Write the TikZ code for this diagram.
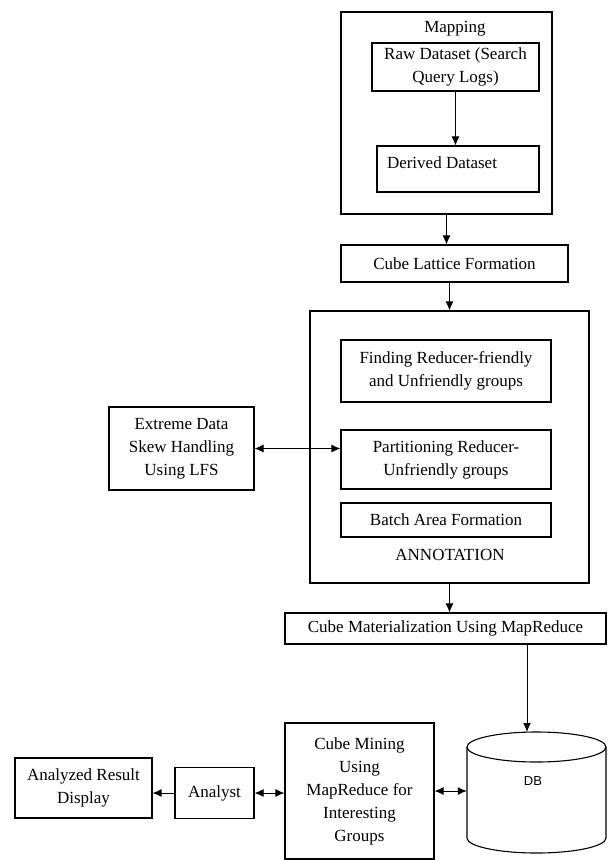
\documentclass[tikz,border=0pt]{standalone}
\usepackage{fontspec}
\setmainfont{Liberation Serif}
\newfontfamily\dbfont{Liberation Sans}
\usepackage{tikz}
\usetikzlibrary{arrows.meta}

\begin{document}
\begin{tikzpicture}[x=1pt, y=-1pt, every node/.style={font=\rmfamily\fontsize{17}{23}\selectfont, align=center, inner sep=0pt}, box/.style={draw, line width=1.1pt}, arr/.style={line width=1pt, -{Latex[length=9pt,width=8pt]}}, dbl/.style={line width=1pt, {Latex[length=9pt,width=8pt]}-{Latex[length=9pt,width=8pt]}}]
	\useasboundingbox (0,0) rectangle (608,860);
	\node[box, minimum width=211, minimum height=202] (map) at (446.5,113) {};
	\node (maptxt) at (455,29) {Mapping};
	\node[box, minimum width=167, minimum height=48] (raw) at (455.5,67) {Raw Dataset (Search\\Query Logs)};
	\node[box, minimum width=162, minimum height=46] (derived) at (458,169) {};
	\node (derivedtxt) at (442,163) {Derived Dataset};
	\node[box, minimum width=227, minimum height=37] (lattice) at (454.5,263.5) {Cube Lattice Formation};
	\node[box, minimum width=279, minimum height=272] (annot) at (449.5,447) {};
	\node[box, minimum width=210, minimum height=62] (finding) at (446,371) {Finding Reducer-friendly\\and Unfriendly groups};
	\node[box, minimum width=210, minimum height=59] (partition) at (446,459.5) {Partitioning Reducer-\\Unfriendly groups};
	\node[box, minimum width=210, minimum height=34] (batch) at (446,520) {Batch Area Formation};
	\node (annottxt) at (450,555) {ANNOTATION};
	\node[box, minimum width=145, minimum height=83] (extreme) at (181.5,448.5) {Extreme Data\\Skew Handling\\Using LFS};
	\node[box, minimum width=321, minimum height=31] (cubemat) at (445.5,628.5) {Cube Materialization Using MapReduce};
	\node[box, minimum width=149, minimum height=136] (mining) at (359.5,791) {Cube Mining\\Using\\MapReduce for\\Interesting\\Groups};
	\node[box, minimum width=79, minimum height=51] (analyst) at (214.5,793) {Analyst};
	\node[box, minimum width=137, minimum height=60] (analyzed) at (83.5,788) {Analyzed Result\\Display};
	\node[minimum width=139, minimum height=121] (db) at (536.5,792.5) {};
	\draw[line width=1.1pt] (536.5,747) ellipse [x radius=69.5, y radius=15];
	\draw[line width=1.1pt] (467,747) -- (467,838) arc[start angle=180, end angle=0, x radius=69.5, y radius=15] -- (606,747);
	\node[font=\dbfont\fontsize{13}{15}\selectfont] (dbtxt) at (533,781) {DB};
	\coordinate (dbtop) at (527,732);
	\draw[arr] (raw.south) -- (derived.north -| raw.south);
	\draw[arr] (map.south) -- (lattice.north -| map.south);
	\draw[arr] (lattice.south -| annot.north) -- (annot.north);
	\draw[dbl] (extreme.east) -- (extreme.east -| partition.west);
	\draw[arr] (annot.south) -- (cubemat.north -| annot.south);
	\draw[arr] (cubemat.south -| dbtop) -- (dbtop);
	\draw[dbl] (mining.east) -- (mining.east -| db.west);
	\draw[dbl] (analyst.east) -- (analyst.east -| mining.west);
	\draw[arr] (analyst.west) -- (analyst.west -| analyzed.east);
\end{tikzpicture}
\end{document}
